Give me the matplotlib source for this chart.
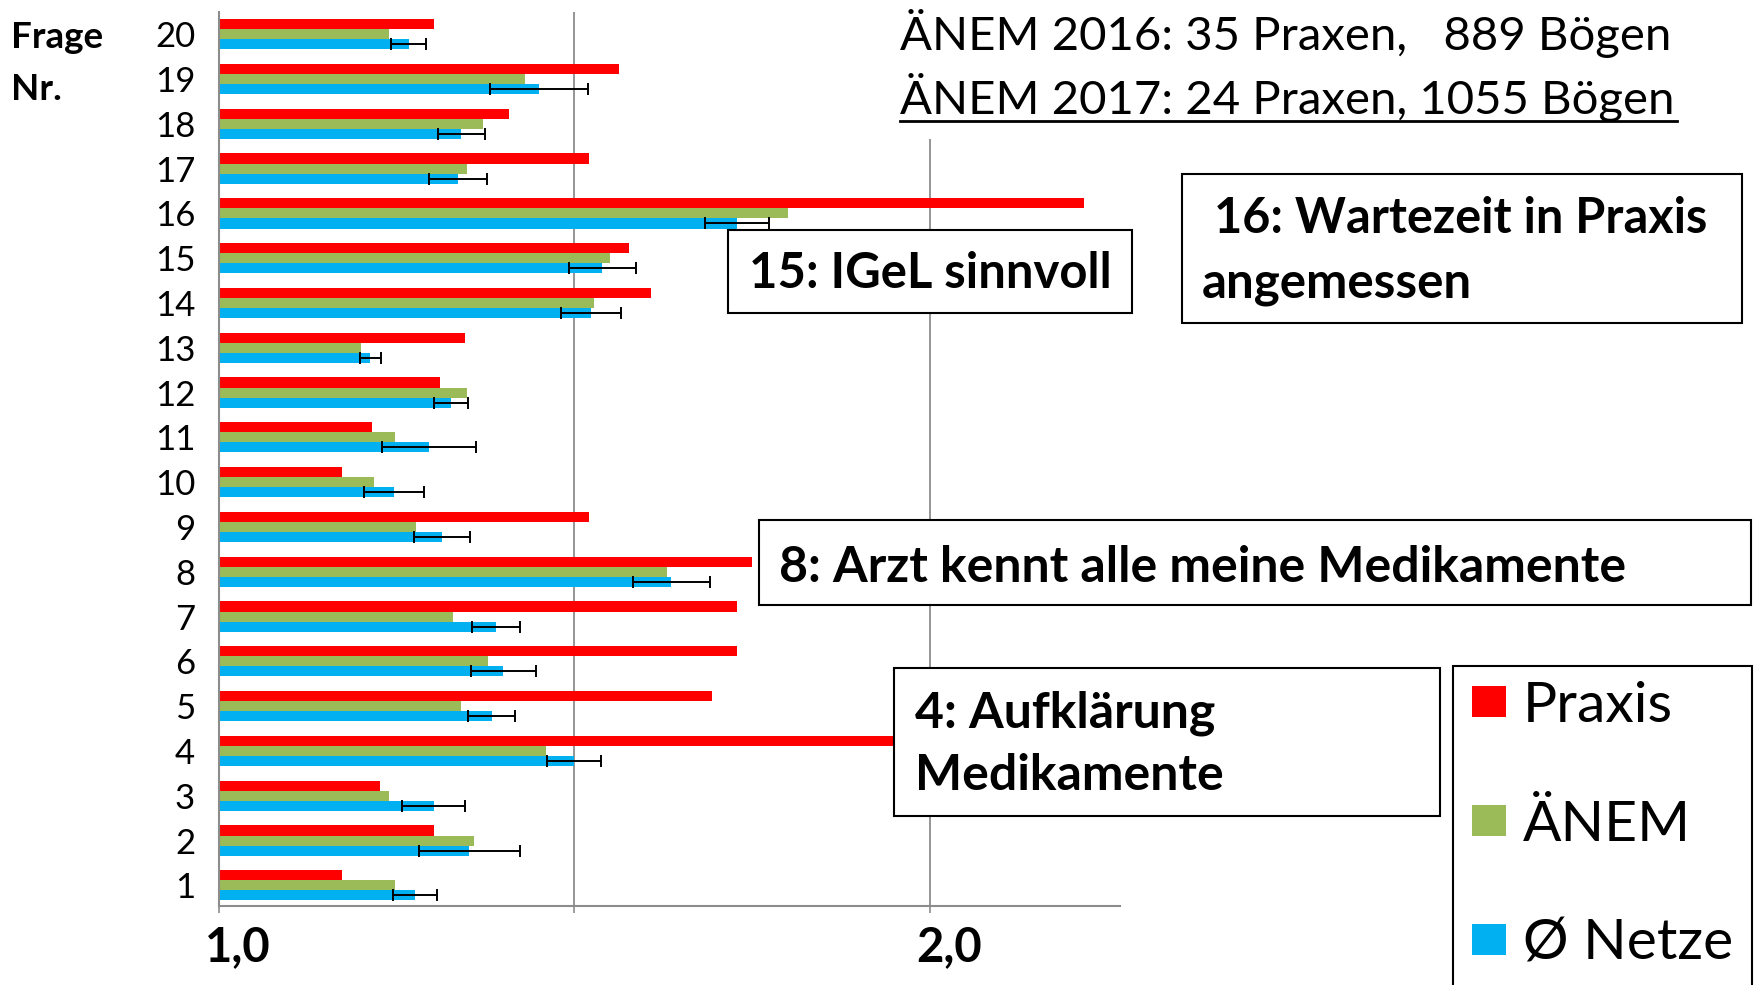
import matplotlib.pyplot as plt
import numpy as np
from matplotlib.patches import Rectangle
from matplotlib.lines import Line2D
from matplotlib.transforms import ScaledTranslation

plt.rcParams['font.family'] = ['Lato', 'DejaVu Sans']

fragen = list(range(1, 21))
praxis = [1.173, 1.302, 1.226, 2.05, 1.694, 1.728, 1.728, 1.750, 1.520, 1.173,
          1.216, 1.311, 1.346, 1.607, 1.577, 2.216, 1.520, 1.408, 1.563, 1.302]
anem = [1.248, 1.359, 1.240, 1.460, 1.341, 1.378, 1.330, 1.630, 1.278, 1.218,
        1.248, 1.349, 1.200, 1.528, 1.550, 1.800, 1.349, 1.371, 1.430, 1.240]
netze = [1.276, 1.352, 1.302, 1.500, 1.384, 1.400, 1.390, 1.636, 1.314, 1.246,
         1.295, 1.327, 1.213, 1.523, 1.539, 1.728, 1.336, 1.341, 1.450, 1.267]
netze_err = [0.031, 0.071, 0.044, 0.038, 0.033, 0.046, 0.034, 0.054, 0.039, 0.042,
             0.066, 0.024, 0.015, 0.042, 0.047, 0.045, 0.041, 0.033, 0.069, 0.0245]
serien = ['Praxis', 'ÄNEM', 'Ø Netze']
farben = ['#FF0000', '#9BBB59', '#00B0F0']

W, H = 1757, 985
fig = plt.figure(figsize=(W / 100, H / 100), dpi=100, facecolor='white')
ax = fig.add_axes([218.75 / W, 1 - 905.5 / H, (1120 - 218.75) / W, (905.5 - 11.8) / H])

def fx(px):
    return px / W

def fy(py):
    return 1 - py / H

y = np.array(fragen, dtype=float)
h = 0.225
balken = []
for vals, off, col, lab in zip([praxis, anem, netze], [h, 0, -h], farben, serien):
    b = ax.barh(y + off, np.array(vals) - 1.0, left=1.0, height=h, color=col,
                label=lab, zorder=2)
    balken.append(b)
ax.errorbar(netze, y - h, xerr=netze_err, fmt='none', ecolor='black',
            elinewidth=1.4, capsize=4, capthick=1.4, zorder=3)

ax.set_xlim(1.0, 2.267)
ax.set_ylim(0.55, 20.5)
ax.set_xticks([1.0, 1.5, 2.0])
ax.set_xticklabels(['1,0', '', '2,0'], fontsize=34, fontweight='bold')
ax.set_yticks(fragen)
ax.set_yticklabels([str(f) for f in fragen], fontsize=25)
ax.tick_params(axis='y', length=0, pad=17)
ax.tick_params(axis='x', length=5, width=1.2, color='#8C8C8C', pad=9)
for lbl in ax.get_xticklabels():
    lbl.set_transform(lbl.get_transform() + ScaledTranslation(0.19, 0, fig.dpi_scale_trans))
ax.grid(axis='x', color='#8C8C8C', linewidth=1.3, zorder=0)
ax.set_axisbelow(True)
for s in ['top', 'right']:
    ax.spines[s].set_visible(False)
for s in ['left', 'bottom']:
    ax.spines[s].set_color('#8C8C8C')
    ax.spines[s].set_linewidth(1.5)

fig.text(fx(11), fy(38), 'Frage', fontsize=26.5, fontweight='bold', va='center', ha='left')
fig.text(fx(11), fy(89), 'Nr.', fontsize=26.5, fontweight='bold', va='center', ha='left')

# Kopfzeile
fig.add_artist(Rectangle((fx(880), fy(139)), fx(840), 139 / H, transform=fig.transFigure,
                         facecolor='white', edgecolor='none', zorder=2))
fig.text(fx(900), fy(33), 'ÄNEM 2016: 35 Praxen,   889 Bögen', fontsize=34,
         va='center', ha='left', zorder=3)
fig.text(fx(900), fy(97), 'ÄNEM 2017: 24 Praxen, 1055 Bögen', fontsize=34,
         va='center', ha='left', zorder=3)
fig.add_artist(Line2D([fx(900), fx(1677)], [fy(121), fy(121)], transform=fig.transFigure,
                      color='black', linewidth=2, zorder=3))

def kasten(x0, y0, x1, y1):
    fig.add_artist(Rectangle((fx(x0), fy(y1)), fx(x1 - x0), (y1 - y0) / H,
                             transform=fig.transFigure, facecolor='white',
                             edgecolor='black', linewidth=1.5, zorder=4))

def notiz(x, yy, s, size=36):
    fig.text(fx(x), fy(yy), s, fontsize=size, fontweight='bold',
             va='center', ha='left', zorder=5)

kasten(728, 230, 1132, 313)
notiz(749, 274, '15: IGeL sinnvoll', 35.3)
kasten(1182, 174, 1742, 323)
notiz(1214, 219, '16: Wartezeit in Praxis', 35)
notiz(1202, 283, 'angemessen', 35.5)
kasten(759, 520, 1751, 605)
notiz(779, 567, '8: Arzt kennt alle meine Medikamente')
kasten(894, 668, 1440, 816)
notiz(915, 713, '4: Aufklärung')
notiz(915, 776, 'Medikamente')

# Legende
kasten(1453, 666, 1752, 1000)
leg = fig.legend(handles=balken, labels=serien, loc='upper left',
                 bbox_to_anchor=(fx(1472), fy(681)), bbox_transform=fig.transFigure,
                 fontsize=41, frameon=False, handlelength=0.6, handleheight=0.46,
                 handletextpad=0.3, labelspacing=1.19, borderpad=0, borderaxespad=0)
leg.set_zorder(6)

fig.savefig('out.png', dpi=100)
